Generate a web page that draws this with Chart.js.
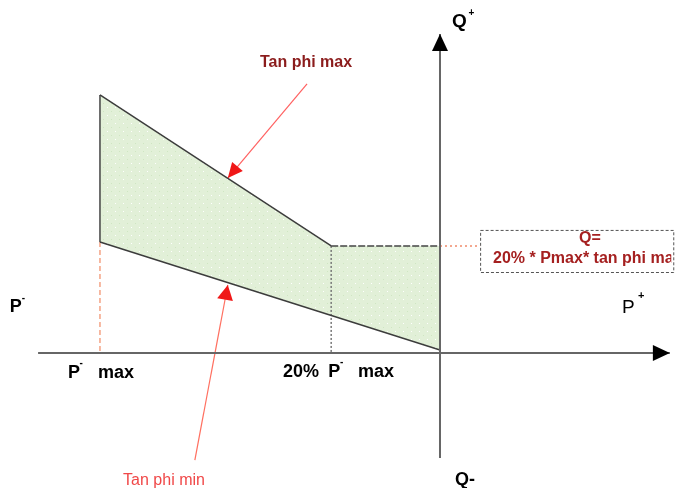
<!DOCTYPE html>
<html>
<head>
<meta charset="utf-8">
<script src="https://cdn.jsdelivr.net/npm/chart.js@4.4.1/dist/chart.umd.min.js"></script>
<style>
  html, body { margin: 0; padding: 0; background: #fff; }
  canvas { display: block; }
</style>
</head>
<body>
<canvas id="pq" width="677" height="488"></canvas>
<script>
// P in % of P max (negative = P- side), Q in % of Q at P- max on the tan phi max line
const pPoints = [-100, -32, 0];      // P- max, "20% P- max" break, origin
const tanPhiMaxQ = [100, 41.5];      // tan phi max line at P- max and at the break
const tanPhiMinQ = [43, 1.2];        // tan phi min line at P- max and at the origin
const qLimit = 41.5;                 // Q = 20% * Pmax * tan phi max

const X_MIN = -129.4, X_MAX = 69.7, Y_MIN = -52.3, Y_MAX = 136.8;

function pt(x, y) { return { x: x, y: y }; }

function dotPattern() {
  const c = document.createElement('canvas');
  c.width = 8; c.height = 8;
  const g = c.getContext('2d');
  g.fillStyle = '#e2f0d8';
  g.fillRect(0, 0, 8, 8);
  g.fillStyle = '#ffffff';
  g.fillRect(3, 3, 1, 1);
  g.fillStyle = '#cfe6c2';
  g.fillRect(7, 7, 1, 1);
  return g.createPattern(c, 'repeat');
}

function seg(points, color, width, dash, extra) {
  return Object.assign({
    data: points, showLine: true, fill: false, borderColor: color,
    borderWidth: width, borderDash: dash || [], pointRadius: 0, tension: 0
  }, extra || {});
}

const pMax = pPoints[0], pBreak = pPoints[1], p0 = pPoints[2];

const datasets = [
  // axes
  seg([pt(-118.2, 0), pt(67.6, 0)], '#666', 2, null, { arrowHead: [17, 8], arrowColor: '#000' }),
  seg([pt(0, -40.7), pt(0, 123.6)], '#666', 2, null, { arrowHead: [17, 8], arrowColor: '#000' }),
  // capability borders
  seg([pt(pMax, tanPhiMaxQ[0]), pt(pBreak, tanPhiMaxQ[1])], '#3c3c3c', 1.5),
  seg([pt(pMax, tanPhiMinQ[0]), pt(pMax, tanPhiMaxQ[0])], '#444', 1.5),
  seg([pt(pMax, tanPhiMinQ[0]), pt(p0, tanPhiMinQ[1])], '#3c3c3c', 1.5),
  seg([pt(pBreak, qLimit), pt(p0, qLimit)], '#444', 1.5, [7, 2]),
  seg([pt(pBreak, qLimit), pt(pBreak, 0)], '#777', 1.5, [2, 2]),
  // guides
  seg([pt(pMax, tanPhiMinQ[0]), pt(pMax, 0)], '#f4a384', 1.5, [5, 3]),
  seg([pt(p0, qLimit), pt(11.8, qLimit)], '#f08a6a', 1.5, [2, 3]),
  // red pointer arrows
  seg([pt(-39.1, 104.3), pt(-62.4, 67.8)], '#ff6060', 1.2, null, { arrowHead: [15, 7], arrowColor: '#f01818' }),
  seg([pt(-72.1, -41.5), pt(-62.4, 26.4)], '#ff7060', 1.2, null, { arrowHead: [15, 8], arrowColor: '#f01818' }),
  // filled area (drawn underneath)
  {
    data: [pt(pMax, tanPhiMaxQ[0]), pt(pBreak, tanPhiMaxQ[1]), pt(p0, qLimit), pt(p0, tanPhiMinQ[1]), pt(pMax, tanPhiMinQ[0])],
    showLine: true, fill: 'shape', borderWidth: 0, borderColor: 'rgba(0,0,0,0)',
    backgroundColor: dotPattern(), pointRadius: 0, tension: 0
  }
];

const BOLD = 'bold {s}px "Liberation Sans", Arial, sans-serif';
const NORM = '{s}px "Liberation Sans", Arial, sans-serif';
function f(tpl, s) { return tpl.replace('{s}', s); }

const labels = [
  { text: 'Q', x: 3.5, y: 126.4, font: f(BOLD, 19), color: '#000' },
  { text: '+', x: 8.4, y: 130.6, font: f(BOLD, 10), color: '#000' },
  { text: 'P', x: -126.5, y: 15.9, font: f(BOLD, 18), color: '#000' },
  { text: '-', x: -123.0, y: 20.2, font: f(BOLD, 10), color: '#000' },
  { text: 'P', x: 53.5, y: 15.5, font: f(NORM, 19), color: '#000' },
  { text: '+', x: 58.2, y: 21.0, font: f(BOLD, 11), color: '#000' },
  { text: 'P', x: -109.4, y: -9.7, font: f(BOLD, 18), color: '#000' },
  { text: '-', x: -106.0, y: -5.2, font: f(BOLD, 10), color: '#000' },
  { text: 'max', x: -100.6, y: -9.7, font: f(BOLD, 18), color: '#000' },
  { text: '20%', x: -46.2, y: -9.3, font: f(BOLD, 18), color: '#000' },
  { text: 'P', x: -32.9, y: -9.3, font: f(BOLD, 18), color: '#000' },
  { text: '-', x: -29.4, y: -4.8, font: f(BOLD, 10), color: '#000' },
  { text: 'max', x: -24.1, y: -9.3, font: f(BOLD, 18), color: '#000' },
  { text: 'Q-', x: 4.4, y: -51.2, font: f(BOLD, 18), color: '#000' },
  { text: 'Tan phi max', x: -39.4, y: 110.9, font: f(BOLD, 16), color: '#8b1c1c', align: 'center' },
  { text: 'Tan phi min', x: -93.2, y: -51.2, font: f(NORM, 16), color: '#f04848' }
];

const box = { x0: 11.8, x1: 68.6, y0: 47.7, y1: 31.4 };
const boxLabels = [
  { text: 'Q=', x: 44.1, y: 42.6, font: f(BOLD, 16), color: '#a52020', align: 'center' },
  { text: '20% * Pmax* tan phi max', x: 15.6, y: 34.9, font: f(BOLD, 16), color: '#a52020' }
];

function drawText(ctx, xs, ys, l) {
  ctx.font = l.font;
  ctx.fillStyle = l.color;
  ctx.textAlign = l.align || 'left';
  ctx.textBaseline = 'alphabetic';
  ctx.fillText(l.text, xs.getPixelForValue(l.x), ys.getPixelForValue(l.y));
}

const overlay = {
  id: 'overlay',
  afterDatasetsDraw(chart) {
    const ctx = chart.ctx, xs = chart.scales.x, ys = chart.scales.y;
    chart.data.datasets.forEach((ds, i) => {
      if (!ds.arrowHead) return;
      const pts = chart.getDatasetMeta(i).data;
      const a = pts[pts.length - 2], b = pts[pts.length - 1];
      const ang = Math.atan2(b.y - a.y, b.x - a.x);
      ctx.save();
      ctx.translate(b.x, b.y);
      ctx.rotate(ang);
      ctx.beginPath();
      ctx.moveTo(0, 0);
      ctx.lineTo(-ds.arrowHead[0], -ds.arrowHead[1]);
      ctx.lineTo(-ds.arrowHead[0], ds.arrowHead[1]);
      ctx.closePath();
      ctx.fillStyle = ds.arrowColor;
      ctx.fill();
      ctx.restore();
    });

    // dashed formula box
    const bx0 = xs.getPixelForValue(box.x0), bx1 = xs.getPixelForValue(box.x1);
    const by0 = ys.getPixelForValue(box.y0), by1 = ys.getPixelForValue(box.y1);
    ctx.save();
    ctx.strokeStyle = '#555';
    ctx.lineWidth = 1;
    ctx.setLineDash([3, 2]);
    ctx.strokeRect(bx0 + 0.5, by0 + 0.5, bx1 - bx0, by1 - by0);
    ctx.beginPath();
    ctx.rect(bx0, by0, bx1 - bx0 - 2, by1 - by0);
    ctx.clip();
    boxLabels.forEach(l => drawText(ctx, xs, ys, l));
    ctx.restore();

    ctx.save();
    labels.forEach(l => drawText(ctx, xs, ys, l));
    ctx.restore();
  }
};

new Chart(document.getElementById('pq').getContext('2d'), {
  type: 'scatter',
  data: { datasets: datasets },
  options: {
    responsive: false,
    animation: false,
    layout: { padding: 0 },
    plugins: { legend: { display: false }, tooltip: { enabled: false } },
    scales: {
      x: { type: 'linear', display: false, min: X_MIN, max: X_MAX },
      y: { type: 'linear', display: false, min: Y_MIN, max: Y_MAX }
    }
  },
  plugins: [overlay]
});
</script>
</body>
</html>
